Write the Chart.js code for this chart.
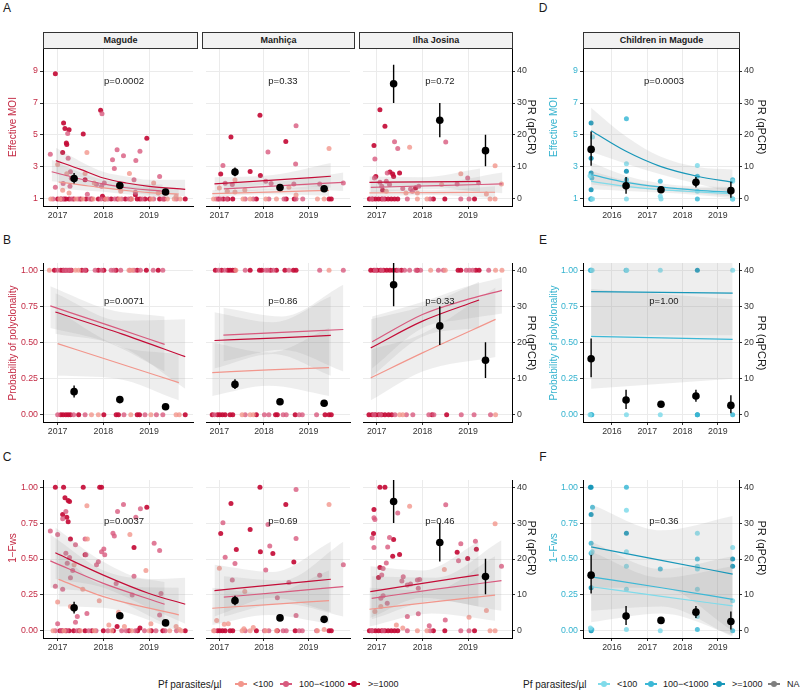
<!DOCTYPE html>
<html lang="en">
<head>
<meta charset="UTF-8">
<title>MOI / polyclonality / 1-Fws by site</title>
<style>
  body { margin: 0; background: #fff; font-family: "Liberation Sans", Arial, Helvetica, sans-serif; }
  #fig { position: relative; width: 800px; height: 697px; overflow: hidden; }
  .pane { position: absolute; }
  .strip { position: absolute; background: #f2f2f2; border: 1px solid #333; box-sizing: border-box;
           font-weight: bold; font-size: 9px; color: #1a1a1a; text-align: center; line-height: 14px; }
  .txt { position: absolute; white-space: nowrap; }
  .key { position: absolute; width: 12px; height: 2px; }
  .key i { position: absolute; left: 3px; top: -2px; width: 6px; height: 6px; border-radius: 50%; }
</style>
</head>
<body>
<div id="fig"></div>
<script src="https://cdn.jsdelivr.net/npm/chart.js"></script>
<script>
// ---------- data ----------
const sites = ['Magude', 'Manhiça', 'Ilha Josina', 'Children in Magude'];
const densityCats = ['<100', '100\u2212<1000', '>=1000'];
const pValues = [
  ['p=0.0002', 'p=0.33', 'p=0.72', 'p=0.0003'],
  ['p=0.0071', 'p=0.86', 'p=0.33', 'p=1.00'],
  ['p=0.0037', 'p=0.69', 'p=0.46', 'p=0.36']
];
const siteYearTicks = [2017, 2018, 2019];
const childYearTicks = [2016, 2017, 2018, 2019];
const moiTicks = [1, 3, 5, 7, 9];
const probTicks = [0, 0.25, 0.5, 0.75, 1];
const prTicks = [0, 10, 20, 30, 40];

// PR (qPCR) survey means with 95% CI
const magPrX = [2017.36, 2018.36, 2019.36];
const magPr = [6.4, 4.2, 2.2], magPrLo = [4.8, 3.3, 1.7], magPrHi = [8.1, 5.1, 2.8];
const manPrX = [2017.35, 2018.36, 2019.35];
const manPr = [8.4, 3.6, 3.2], manPrLo = [7.1, 2.9, 2.5], manPrHi = [9.8, 4.3, 3.9];
const ilhPrX = [2017.37, 2018.38, 2019.38];
const ilhPr = [36.0, 24.6, 15.1], ilhPrLo = [30.0, 19.3, 10.2], ilhPrHi = [42.0, 30.0, 20.1];
const kidPrX = [2015.41, 2016.4, 2017.39, 2018.38, 2019.37];
const kidPr = [15.5, 4.1, 2.9, 5.2, 2.6], kidPrLo = [10.4, 1.6, 2.2, 3.6, 0.4], kidPrHi = [21.1, 6.9, 3.6, 6.9, 5.4];

// ---- Effective MOI samples [year, MOI] ----
const moiMagHi = [[2016.95,8.83],[2017.13,5.75],[2017.16,5.4],[2017.25,5.33],[2017.19,4.5],[2017.2,4.4],[2017.56,5.06],[2017.94,6.54],[2017.11,3.9],[2018.95,4.8],[2017.6,2.2],[2017.98,1.17],[2018.7,1.27],
  [2017.0,1],[2017.07,1],[2017.14,1],[2017.18,1],[2017.25,1],[2017.35,1],[2017.5,1],[2017.62,1],[2017.74,1],[2017.89,1],[2018.03,1],[2018.17,1],[2018.31,1],[2018.48,1],[2018.6,1],[2018.74,1],[2018.8,1],[2018.91,1],[2019.01,1],[2019.23,1],[2019.33,1],[2019.79,1]];
const moiMagMid = [[2017.22,5.1],[2017.97,6.33],[2016.84,3.8],[2018.8,3.98],[2018.44,3.7],[2018.3,4.08],[2018.2,3.45],[2018.71,3.4],[2018.24,2.9],[2018.67,2.2],[2017.23,3.55],[2017.28,2.7],[2017.12,1.96],[2017.3,2.3],[2017.27,1.8],[2017.65,1.3],[2017.85,1.9],[2017.96,1.8],[2018.02,2.0],[2018.7,1.42],[2016.95,1.73],[2019.23,2.4],
  [2016.9,1],[2017.1,1],[2017.3,1],[2017.45,1],[2017.7,1],[2017.95,1],[2018.1,1],[2018.25,1],[2018.4,1],[2018.55,1],[2018.85,1],[2019.1,1],[2019.3,1],[2019.6,1]];
const moiMagLo = [[2017.64,3.9],[2017.0,3.15],[2017.2,2.58],[2017.6,2.6],[2017.11,1.54],[2017.25,1.38],[2017.8,2.0],[2018.38,1.48],[2018.57,2.6],[2019.1,2.0],[2019.2,1.38],[2019.59,1.17],
  [2016.85,1],[2017.05,1],[2017.4,1],[2017.55,1],[2017.78,1],[2018.05,1],[2018.35,1],[2018.62,1],[2019.05,1],[2019.4,1],[2019.55,1],[2019.68,1]];
const moiManHi = [[2017.91,6.23],[2017.26,4.88],[2018.49,4.6],[2017.03,2.56],[2017.69,2.71],[2017.92,2.46],
  [2016.98,1],[2017.09,1],[2017.19,1],[2017.3,1],[2017.83,1],[2018.5,1],[2018.68,1],[2019.46,1],[2019.51,1]];
const moiManMid = [[2018.72,5.58],[2018.09,3.94],[2017.08,3.1],[2018.71,3.19],[2017.13,1.98],[2017.29,1.9],[2018.04,2.1],[2018.16,1.96],[2018.67,1.94],[2019.25,1.94],[2019.78,2.0],
  [2016.93,1],[2017.03,1],[2017.16,1],[2017.58,1],[2017.76,1],[2018.11,1],[2018.45,1],[2018.72,1],[2018.87,1]];
const moiManLo = [[2019.46,4.15],[2017.35,2.19],[2017.0,1.69],[2017.57,1.56],[2017.35,1.44],[2017.18,1.48],[2018.56,1.73],[2018.72,1.25],
  [2016.87,1],[2017.53,1],[2017.69,1],[2018.04,1],[2018.28,1],[2019.2,1],[2019.35,1]];
const moiIlhHi = [[2017.07,6.58],[2017.18,5.54],[2016.94,4.35],[2017.29,2.69],[2017.35,2.56],[2017.37,2.4],[2017.5,2.63],[2016.98,2.4],[2017.13,1.54],[2017.85,1.69],
  [2016.84,1],[2016.91,1],[2016.97,1],[2017.04,1],[2017.11,1],[2017.18,1],[2017.25,1],[2017.32,1],[2017.39,1],[2017.46,1],[2018.24,1],[2018.49,1],[2019.14,1]];
const moiIlhMid = [[2016.96,3.5],[2017.39,4.58],[2017.46,4.15],[2018.51,4.56],[2018.99,2.31],[2019.23,2.02],[2017.23,2.63],[2016.95,2.31],[2017.07,2.04],[2017.11,1.79],[2017.28,1.9],[2017.21,2.1],[2017.57,1.65],[2017.74,1.63],[2017.78,1.48],[2017.92,1.79],[2018.76,1.94],
  [2016.89,1],[2017.14,1],[2017.67,1],[2018.17,1],[2018.84,1],[2019.02,1]];
const moiIlhLo = [[2017.72,4.23],[2019.59,3.08],[2018.84,2.58],[2017.21,1.48],[2017.64,1.38],[2017.89,1.38],[2018.42,1.9],[2019.4,1.31],[2019.73,1.94],
  [2017.89,1],[2018.1,1],[2019.48,1],[2019.59,1]];
const moiKidHi = [[2015.41,5.75],[2015.41,3.54],[2015.41,2.63],[2015.41,1.58],[2015.41,1],[2016.41,2.73]];
const moiKidMid = [[2015.41,4.13],[2015.43,2.31],[2015.4,1],[2016.41,6.02],[2016.41,2.2],[2017.37,2.1],[2018.42,2.42],[2018.42,1],[2019.42,2.2],[2019.42,1]];
const moiKidLo = [[2015.45,4.88],[2015.38,2.45],[2015.45,1],[2016.41,3.2],[2016.41,1],[2017.37,1.17],[2017.39,1],[2018.42,3.1],[2018.42,1.48],[2019.42,2.1],[2019.42,1]];

// ---- Polyclonal (1) / monoclonal (0) sample years ----
const polyMagHi1 = [2016.93,2017.07,2017.12,2017.18,2017.25,2017.3,2017.53,2017.62,2017.89,2018.01,2018.28,2018.74,2018.94,2019.2];
const polyMagMid1 = [2017.0,2017.14,2017.21,2017.28,2017.59,2017.82,2017.96,2018.17,2018.23,2018.38,2018.58,2018.67,2018.81,2019.09,2019.3];
const polyMagLo1 = [2016.82,2017.39,2017.46,2018.56,2018.63];
const polyMagHi0 = [2017.07,2017.12,2017.18,2017.23,2017.28,2017.46,2018.01,2018.28,2018.33,2018.74,2018.79,2019.79];
const polyMagMid0 = [2017.0,2017.35,2017.6,2018.45,2018.91,2019.16,2019.3];
const polyMagLo0 = [2017.74,2017.89,2018.6,2019.04,2019.59,2019.66];
const polyManHi1 = [2016.91,2017.05,2017.19,2017.24,2017.3,2017.35,2017.69,2017.9,2017.95,2018.15,2018.28,2018.47,2018.66,2018.72];
const polyManMid1 = [2016.98,2017.12,2017.58,2018.04,2018.09,2018.21,2018.56,2019.25,2019.78];
const polyManLo1 = [2017.37,2019.46];
const polyManHi0 = [2016.84,2016.96,2017.01,2017.07,2017.13,2017.24,2017.3,2017.83,2018.26,2018.3,2018.7,2019.37,2019.46,2019.51];
const polyManMid0 = [2016.89,2017.58,2018.01,2018.11,2018.43,2018.5,2018.79,2018.86,2019.18];
const polyManLo0 = [2017.51,2017.69,2017.76];
const polyIlhHi1 = [2016.87,2016.94,2017.01,2017.08,2017.15,2017.22,2017.29,2017.36,2017.43,2017.54,2017.89,2018.78,2018.84,2019.17,2019.24];
const polyIlhMid1 = [2016.97,2017.11,2017.47,2017.61,2017.72,2017.86,2017.96,2018.35,2018.46,2018.96,2019.03,2019.1,2019.45];
const polyIlhLo1 = [2018.18,2018.5,2019.6,2019.74];
const polyIlhHi0 = [2016.83,2016.9,2016.97,2017.04,2017.11,2017.18,2017.26,2017.33,2018.21,2018.53];
const polyIlhMid0 = [2016.94,2017.08,2017.4,2017.65,2017.79,2018.14,2018.25,2018.85,2019.13,2019.49];
const polyIlhLo0 = [2017.5,2017.57,2019.6];
const polyKidHi1 = [2015.41,2018.42], polyKidHi0 = [2015.41,2018.42];
const polyKidMid1 = [2015.39,2016.4], polyKidMid0 = [2015.43,2018.42,2019.42];
const polyKidLo1 = [2015.44,2016.42,2017.37,2019.42], polyKidLo0 = [2015.38,2016.41,2017.37];

// ---- 1-Fws samples [year, value] ----
const fwsMagHi = [[2016.95,1],[2017.13,1],[2017.56,1],[2017.92,1],[2017.96,1],[2017.16,0.926],[2017.23,0.907],[2017.26,0.9],[2017.11,0.81],[2017.2,0.79],[2017.23,0.76],[2017.28,0.64],[2018.95,0.86],[2018.67,0.58],[2017.6,0.53],
  [2017.05,0],[2017.1,0],[2017.18,0],[2017.25,0],[2017.35,0],[2017.47,0],[2017.6,0],[2017.75,0],[2018.0,0],[2018.22,0],[2018.3,0.03],[2018.56,0],[2018.75,0],[2018.8,0.02],[2019.05,0],[2019.3,0],[2019.79,0]];
const fwsMagMid = [[2016.84,0.695],[2017.0,0.67],[2017.11,0.78],[2017.18,0.83],[2017.26,0.51],[2017.18,0.54],[2017.21,0.47],[2017.28,0.37],[2017.11,0.29],[2017.39,0.6],[2017.33,0.42],[2017.6,0.64],[2017.62,0.53],[2017.85,0.46],[2017.89,0.48],[2017.96,0.55],[2018.01,0.57],[2018.03,0.53],[2018.21,0.68],[2018.24,0.66],[2018.31,0.83],[2018.44,0.88],[2018.81,0.85],[2018.71,0.79],[2018.67,0.38],[2018.63,0.25],[2019.11,0.61],[2019.23,0.56],[2019.26,0.26],[2019.23,0.11],[2018.28,0.33],[2017.39,0.06],[2017.43,0.1],[2016.95,0.31],[2017.0,0.05],[2017.64,0.12],
  [2016.95,0],[2017.08,0],[2017.2,0],[2017.42,0],[2017.68,0],[2017.84,0],[2018.1,0],[2018.4,0],[2018.5,0],[2018.7,0],[2018.9,0],[2019.15,0],[2019.35,0],[2019.6,0]];
const fwsMagLo = [[2017.64,0.87],[2017.65,0.64],[2018.58,0.67],[2018.93,0.42],[2017.0,0.2],[2017.28,0.17],[2017.91,0.21],[2018.12,0.04],[2018.33,0.13],[2019.04,0.05],[2019.59,0.03],[2019.66,0.01],[2017.55,0.29],[2017.36,0.46],[2018.46,0.03],
  [2016.9,0],[2017.14,0],[2017.5,0],[2017.8,0],[2018.18,0],[2018.62,0],[2019.0,0],[2019.45,0],[2019.7,0]];
const fwsManHi = [[2017.91,1.0],[2017.26,0.887],[2018.49,0.88],[2017.03,0.678],[2017.69,0.706],[2017.38,0.567],[2017.92,0.551],[2018.2,0.539],[2018.67,0.479],
  [2016.96,0],[2017.01,0],[2017.07,0],[2017.13,0],[2017.24,0],[2017.3,0],[2017.83,0],[2018.3,0],[2018.7,0],[2019.46,0],[2019.51,0]];
const fwsManMid = [[2018.72,0.984],[2017.08,0.752],[2018.09,0.741],[2018.13,0.59],[2017.13,0.512],[2017.35,0.468],[2018.04,0.424],[2018.72,0.643],[2017.29,0.354],[2018.3,0.231],[2018.56,0.336],[2019.78,0.46],[2019.25,0.387],[2018.72,0.106],
  [2016.89,0],[2017.58,0],[2018.01,0],[2018.11,0],[2018.43,0],[2018.5,0],[2018.79,0],[2018.86,0],[2019.18,0]];
const fwsManLo = [[2019.46,0.88],[2017.0,0.435],[2017.57,0.273],[2016.94,0.072],[2017.11,0.046],[2017.2,0.05],[2017.76,0.023],[2017.55,0.015],[2019.35,0.01],
  [2016.87,0],[2017.51,0],[2017.69,0],[2018.04,0],[2018.28,0],[2019.2,0]];
const fwsIlhHi = [[2017.07,1],[2017.18,1],[2016.94,0.845],[2016.93,0.677],[2017.37,0.635],[2017.35,0.52],[2017.5,0.531],[2017.07,0.441],[2017.04,0.372],[2019.18,0.568],[2018.76,0.547],[2018.99,0.503],
  [2016.84,0],[2016.9,0],[2016.97,0],[2017.04,0],[2017.11,0],[2017.18,0],[2017.25,0],[2017.32,0],[2017.39,0],[2017.46,0],[2018.24,0],[2018.49,0],[2019.14,0]];
const fwsIlhMid = [[2016.94,0.787],[2016.96,0.775],[2016.9,0.647],[2016.94,0.58],[2017.24,0.584],[2017.28,0.649],[2017.21,0.473],[2017.14,0.434],[2017.14,0.245],[2017.09,0.226],[2017.23,0.192],[2017.11,0.388],[2017.46,0.82],[2017.58,0.376],[2017.55,0.346],[2017.67,0.319],[2017.74,0.326],[2017.89,0.353],[2017.94,0.358],[2017.91,0.296],[2017.67,0.1],[2017.91,0.118],[2018.51,0.878],[2019.16,0.624],[2018.84,0.607],[2018.79,0.487],[2019.73,0.45],[2018.5,0.076],[2018.15,0.035],
  [2016.89,0],[2017.14,0],[2017.67,0],[2018.17,0],[2018.84,0],[2019.02,0]];
const fwsIlhLo = [[2017.72,0.868],[2016.96,0.134],[2017.09,0.169],[2019.59,0.746],[2019.4,0.141],[2018.48,0.427],[2019.02,0.095],[2017.43,0.04],[2017.57,0.02],
  [2017.89,0],[2018.1,0],[2019.48,0],[2019.59,0]];
const fwsKidHi = [[2015.41,1],[2015.39,1],[2015.41,0.81],[2015.41,0.3],[2015.41,0],[2016.41,0.68],[2019.42,0.5],[2019.42,0.45]];
const fwsKidMid = [[2015.45,0.86],[2015.41,0.61],[2015.41,0.54],[2015.43,0.01],[2016.41,1.0],[2017.37,0.43],[2018.42,0.5],[2018.42,0.01],[2019.42,0.0]];
const fwsKidLo = [[2015.44,0.55],[2015.39,0.02],[2016.41,0.84],[2016.41,0.55],[2016.41,0.45],[2016.41,0.29],[2016.41,0.01],[2017.37,0.0],[2018.42,0.68],[2018.42,0.45],[2018.42,0.43],[2018.42,0.29],[2018.42,0.1],[2019.42,0.58],[2019.42,0.21]];

// ---- model fits [year, fit, lower, upper] ----
const fitMoiMagHi = [[2016.96,3.4,2.55,4.2],[2017.5,2.85,2.35,3.35],[2018,2.31,2.0,2.7],[2018.5,2.0,1.7,2.4],[2019,1.79,1.45,2.2],[2019.79,1.6,1.15,2.2]];
const fitMoiMagMid = [[2016.87,2.7,2.1,3.45],[2017.5,2.25,1.9,2.65],[2018,1.94,1.7,2.2],[2018.5,1.7,1.45,2.0],[2019.3,1.48,1.15,1.9]];
const fitMoiMagLo = [[2017.02,2.06,1.6,2.6],[2017.5,1.88,1.55,2.25],[2018,1.69,1.45,1.95],[2018.5,1.53,1.3,1.8],[2019,1.4,1.15,1.7],[2019.65,1.31,1.0,1.65]];
const fitMoiManHi = [[2016.89,1.94,1.5,2.35],[2018.2,2.18,1.9,2.5],[2019.5,2.42,1.7,3.25]];
const fitMoiManMid = [[2017.1,1.63,1.3,2.0],[2018.4,1.83,1.6,2.1],[2019.78,2.04,1.5,2.65]];
const fitMoiManLo = [[2016.84,1.33,1.15,1.55],[2018.1,1.43,1.3,1.6],[2019.46,1.54,1.2,1.9]];
const fitMoiIlhHi = [[2016.84,2.04,1.6,2.4],[2018,2.07,1.8,2.35],[2019.26,2.1,1.45,2.9]];
const fitMoiIlhMid = [[2016.87,1.73,1.4,2.1],[2018.3,1.83,1.6,2.05],[2019.75,1.94,1.35,2.65]];
const fitMoiIlhLo = [[2016.84,1.38,1.15,1.6],[2018.2,1.4,1.25,1.55],[2019.59,1.42,1.05,1.8]];
const fitMoiKidHi = [[2015.41,5.27,3.95,6.7],[2016.4,3.98,3.2,4.9],[2017.37,3.04,2.55,3.65],[2018.42,2.42,1.95,3.0],[2019.42,2.04,1.4,2.85]];
const fitMoiKidMid = [[2015.41,2.52,1.9,3.3],[2016.4,2.04,1.7,2.45],[2017.37,1.75,1.55,1.98],[2018.42,1.54,1.35,1.78],[2019.42,1.42,1.15,1.75]];
const fitMoiKidLo = [[2015.41,2.1,1.6,2.75],[2016.4,1.79,1.5,2.15],[2017.37,1.58,1.4,1.8],[2018.42,1.44,1.25,1.68],[2019.42,1.33,1.05,1.7]];

const fitPolyMagHi = [[2016.95,0.711,0.56,0.84],[2018.4,0.56,0.47,0.65],[2019.79,0.402,0.18,0.66]];
const fitPolyMagMid = [[2016.84,0.753,0.6,0.89],[2018.1,0.62,0.5,0.73],[2019.34,0.487,0.3,0.68]];
const fitPolyMagLo = [[2017.0,0.492,0.27,0.72],[2018.3,0.36,0.25,0.48],[2019.65,0.222,0.1,0.42]];
const fitPolyManHi = [[2016.89,0.514,0.32,0.71],[2018.2,0.53,0.42,0.64],[2019.5,0.549,0.27,0.82]];
const fitPolyManMid = [[2017.09,0.551,0.37,0.74],[2018.4,0.57,0.45,0.68],[2019.78,0.59,0.3,0.9]];
const fitPolyManLo = [[2016.84,0.292,0.13,0.5],[2018.1,0.31,0.2,0.43],[2019.46,0.326,0.13,0.6]];
const fitPolyIlhHi = [[2016.87,0.463,0.26,0.66],[2018,0.648,0.54,0.75],[2019.24,0.794,0.6,0.92]];
const fitPolyIlhMid = [[2016.9,0.505,0.32,0.68],[2018,0.694,0.6,0.78],[2018.9,0.79,0.66,0.88],[2019.74,0.861,0.7,0.95]];
const fitPolyIlhLo = [[2016.87,0.255,0.1,0.45],[2018,0.428,0.3,0.56],[2019.6,0.66,0.4,0.88]];
const fitPolyKidHi = [[2015.41,0.852,0.55,1.08],[2019.42,0.841,0.55,1.08]];
const fitPolyKidMid = [[2015.41,0.543,0.18,0.87],[2019.42,0.522,0.25,0.8]];

const fitFwsMagHi = [[2016.95,0.543,0.36,0.72],[2018,0.388,0.3,0.48],[2019,0.26,0.16,0.36],[2019.79,0.185,0.05,0.37]];
const fitFwsMagMid = [[2016.84,0.487,0.3,0.67],[2018,0.33,0.25,0.42],[2019.34,0.185,0.05,0.34]];
const fitFwsMagLo = [[2017.02,0.358,0.17,0.55],[2018,0.238,0.16,0.32],[2019.65,0.111,0.0,0.3]];
const fitFwsManHi = [[2016.89,0.28,0.1,0.46],[2018.2,0.32,0.23,0.41],[2019.5,0.359,0.13,0.62]];
const fitFwsManMid = [[2017.1,0.234,0.1,0.38],[2018.4,0.27,0.19,0.35],[2019.78,0.308,0.1,0.62]];
const fitFwsManLo = [[2016.84,0.157,0.04,0.3],[2018.1,0.183,0.11,0.26],[2019.46,0.21,0.05,0.42]];
const fitFwsIlhHi = [[2016.86,0.273,0.09,0.45],[2018,0.33,0.23,0.42],[2019.23,0.39,0.17,0.62]];
const fitFwsIlhMid = [[2016.89,0.226,0.08,0.38],[2018.3,0.29,0.21,0.37],[2019.73,0.349,0.14,0.63]];
const fitFwsIlhLo = [[2016.84,0.15,0.03,0.3],[2018.2,0.2,0.12,0.28],[2019.59,0.249,0.07,0.52]];
const fitFwsKidHi = [[2015.41,0.584,0.3,0.88],[2017.4,0.49,0.3,0.7],[2019.42,0.395,0.0,0.8]];
const fitFwsKidMid = [[2015.41,0.376,0.14,0.62],[2017.4,0.3,0.17,0.43],[2019.42,0.219,-0.04,0.52]];
const fitFwsKidLo = [[2015.41,0.307,0.06,0.55],[2017.4,0.24,0.12,0.37],[2019.42,0.173,-0.03,0.45]];

// ---------- look ----------
const FONT = '"Liberation Sans", Arial, Helvetica, sans-serif';
const RED = { lo: '#f2968c', mid: '#d85a7e', hi: '#c40c37', dotLo: 'rgba(242,150,140,0.8)', dotMid: 'rgba(216,90,126,0.8)', dotHi: 'rgba(196,12,55,0.92)', axis: '#c42b45' };
const TEAL = { lo: '#80dbea', mid: '#3cb8d6', hi: '#1897b9', dotLo: 'rgba(128,219,234,0.85)', dotMid: 'rgba(60,184,214,0.85)', dotHi: 'rgba(24,151,185,0.92)', axis: '#35b3cf' };
const BAND = 'rgba(150,150,150,0.16)';
const GRID = '#ebebeb';
const TICK_SIZE = 8.8;
const COLS = [{ l: 43, r: 197, xmin: 2016.68, xmax: 2019.96 }, { l: 202, r: 354, xmin: 2016.70, xmax: 2019.93 },
              { l: 359, r: 512, xmin: 2016.70, xmax: 2019.96 }, { l: 583, r: 739, xmin: 2015.18, xmax: 2019.60 }];
const ROWS = [{ t: 48, b: 206, ymin: 0.56, ymax: 10.44, pmin: -2.2, pmax: 47.2 },
              { t: 263, b: 422, ymin: -0.05, ymax: 1.05, pmin: -2, pmax: 42 },
              { t: 480, b: 638, ymin: -0.05, ymax: 1.05, pmin: -2, pmax: 42 }];

const fig = document.getElementById('fig');

function xy(arr) { return arr.map(p => ({ x: p[0], y: p[1] })); }
function at(xs, v) { return xs.map(x => ({ x, y: v })); }
function errSegs(xs, lo, hi) {
  const out = [];
  xs.forEach((x, i) => { out.push({ x, y: lo[i] }, { x, y: hi[i] }, { x, y: null }); });
  return out;
}

function panel(col, row, pal, scatter, fits, pr) {
  const c = COLS[col], r = ROWS[row];
  const LW = (col === 0 || col === 3) ? 40 : 0;
  const RW = (col === 2 || col === 3) ? 30 : 0;
  const BH = 18, TP = 8;
  const w = LW + (c.r - c.l) + RW, h = TP + (r.b - r.t) + BH;
  const cv = document.createElement('canvas');
  cv.className = 'pane';
  cv.width = w; cv.height = h;
  cv.style.left = (c.l - LW) + 'px'; cv.style.top = (r.t - TP) + 'px';
  cv.style.width = w + 'px'; cv.style.height = h + 'px';
  fig.appendChild(cv);

  const ds = [];
  // confidence ribbons
  fits.forEach(f => {
    ds.push({ type: 'line', data: f.rows.map(q => ({ x: q[0], y: q[3] })), borderWidth: 0, pointRadius: 0, fill: false, order: 3, cubicInterpolationMode: 'monotone' });
    ds.push({ type: 'line', data: f.rows.map(q => ({ x: q[0], y: q[2] })), borderWidth: 0, pointRadius: 0, fill: '-1', backgroundColor: BAND, order: 3, cubicInterpolationMode: 'monotone' });
  });
  // fitted lines
  fits.forEach(f => {
    ds.push({ type: 'line', data: f.rows.map(q => ({ x: q[0], y: q[1] })), borderColor: f.color, borderWidth: 1.2, pointRadius: 0, fill: false, order: 2, cubicInterpolationMode: 'monotone' });
  });
  // individual samples
  scatter.forEach(s => {
    ds.push({ type: 'scatter', data: s.data, backgroundColor: s.color, borderWidth: 0, pointRadius: 2.5, order: 4 });
  });
  // PR survey means + CI
  ds.push({ type: 'line', yAxisID: 'y2', data: errSegs(pr.x, pr.lo, pr.hi), borderColor: '#000', borderWidth: 1.4, pointRadius: 0, spanGaps: false, fill: false, order: 1 });
  ds.push({ type: 'scatter', yAxisID: 'y2', data: pr.x.map((x, i) => ({ x, y: pr.v[i] })), backgroundColor: '#000', borderWidth: 0, pointRadius: 3.8, order: 0 });

  const isMoi = row === 0;
  const yTicks = isMoi ? moiTicks : probTicks;
  const xTicks = col === 3 ? childYearTicks : siteYearTicks;

  new Chart(cv, {
    type: 'scatter',
    data: { datasets: ds },
    options: {
      responsive: false, animation: false, events: [],
      layout: { padding: { top: TP, left: 0, right: 0, bottom: 0 } },
      plugins: { legend: { display: false }, tooltip: { enabled: false } },
      scales: {
        x: {
          type: 'linear', min: c.xmin, max: c.xmax,
          afterBuildTicks: s => { s.ticks = xTicks.map(v => ({ value: v })); },
          afterFit: s => { s.height = BH; },
          grid: { color: GRID, tickColor: '#333', tickLength: 3 },
          border: { display: true, color: '#000', width: 1 },
          ticks: { color: '#333', font: { family: FONT, size: TICK_SIZE }, padding: 1, maxRotation: 0, autoSkip: false, callback: v => String(v) }
        },
        y: {
          type: 'linear', position: 'left', min: r.ymin, max: r.ymax,
          afterBuildTicks: s => { s.ticks = yTicks.map(v => ({ value: v })); },
          afterFit: s => { s.width = LW; },
          grid: { color: GRID, tickColor: '#333', tickLength: 3, drawTicks: LW > 0 },
          border: { display: LW > 0, color: '#000', width: 1 },
          ticks: { display: LW > 0, color: pal.axis, font: { family: FONT, size: TICK_SIZE }, padding: 2,
                   callback: v => isMoi ? String(v) : v.toFixed(2) }
        },
        y2: {
          type: 'linear', position: 'right', display: RW > 0, min: r.pmin, max: r.pmax,
          afterBuildTicks: s => { s.ticks = prTicks.map(v => ({ value: v })); },
          afterFit: s => { s.width = RW; },
          grid: { drawOnChartArea: false, tickColor: '#333', tickLength: 3 },
          border: { display: true, color: '#000', width: 1 },
          ticks: { color: '#333', font: { family: FONT, size: TICK_SIZE }, padding: 2, callback: v => String(v) }
        }
      }
    }
  });
}

function cats(pal, lo, mid, hi) {
  return [{ data: lo, color: pal.dotLo }, { data: mid, color: pal.dotMid }, { data: hi, color: pal.dotHi }];
}
function lines(pal, lo, mid, hi) {
  const out = [];
  if (lo) out.push({ rows: lo, color: pal.lo });
  if (mid) out.push({ rows: mid, color: pal.mid });
  if (hi) out.push({ rows: hi, color: pal.hi });
  return out;
}
const prMag = { x: magPrX, v: magPr, lo: magPrLo, hi: magPrHi };
const prMan = { x: manPrX, v: manPr, lo: manPrLo, hi: manPrHi };
const prIlh = { x: ilhPrX, v: ilhPr, lo: ilhPrLo, hi: ilhPrHi };
const prKid = { x: kidPrX, v: kidPr, lo: kidPrLo, hi: kidPrHi };

// row A/D: effective MOI
panel(0, 0, RED, cats(RED, xy(moiMagLo), xy(moiMagMid), xy(moiMagHi)), lines(RED, fitMoiMagLo, fitMoiMagMid, fitMoiMagHi), prMag);
panel(1, 0, RED, cats(RED, xy(moiManLo), xy(moiManMid), xy(moiManHi)), lines(RED, fitMoiManLo, fitMoiManMid, fitMoiManHi), prMan);
panel(2, 0, RED, cats(RED, xy(moiIlhLo), xy(moiIlhMid), xy(moiIlhHi)), lines(RED, fitMoiIlhLo, fitMoiIlhMid, fitMoiIlhHi), prIlh);
panel(3, 0, TEAL, cats(TEAL, xy(moiKidLo), xy(moiKidMid), xy(moiKidHi)), lines(TEAL, fitMoiKidLo, fitMoiKidMid, fitMoiKidHi), prKid);
// row B/E: probability of polyclonality
panel(0, 1, RED, cats(RED, at(polyMagLo1, 1).concat(at(polyMagLo0, 0)), at(polyMagMid1, 1).concat(at(polyMagMid0, 0)), at(polyMagHi1, 1).concat(at(polyMagHi0, 0))),
      lines(RED, fitPolyMagLo, fitPolyMagMid, fitPolyMagHi), prMag);
panel(1, 1, RED, cats(RED, at(polyManLo1, 1).concat(at(polyManLo0, 0)), at(polyManMid1, 1).concat(at(polyManMid0, 0)), at(polyManHi1, 1).concat(at(polyManHi0, 0))),
      lines(RED, fitPolyManLo, fitPolyManMid, fitPolyManHi), prMan);
panel(2, 1, RED, cats(RED, at(polyIlhLo1, 1).concat(at(polyIlhLo0, 0)), at(polyIlhMid1, 1).concat(at(polyIlhMid0, 0)), at(polyIlhHi1, 1).concat(at(polyIlhHi0, 0))),
      lines(RED, fitPolyIlhLo, fitPolyIlhMid, fitPolyIlhHi), prIlh);
panel(3, 1, TEAL, cats(TEAL, at(polyKidLo1, 1).concat(at(polyKidLo0, 0)), at(polyKidMid1, 1).concat(at(polyKidMid0, 0)), at(polyKidHi1, 1).concat(at(polyKidHi0, 0))),
      lines(TEAL, null, fitPolyKidMid, fitPolyKidHi), prKid);
// row C/F: 1-Fws
panel(0, 2, RED, cats(RED, xy(fwsMagLo), xy(fwsMagMid), xy(fwsMagHi)), lines(RED, fitFwsMagLo, fitFwsMagMid, fitFwsMagHi), prMag);
panel(1, 2, RED, cats(RED, xy(fwsManLo), xy(fwsManMid), xy(fwsManHi)), lines(RED, fitFwsManLo, fitFwsManMid, fitFwsManHi), prMan);
panel(2, 2, RED, cats(RED, xy(fwsIlhLo), xy(fwsIlhMid), xy(fwsIlhHi)), lines(RED, fitFwsIlhLo, fitFwsIlhMid, fitFwsIlhHi), prIlh);
panel(3, 2, TEAL, cats(TEAL, xy(fwsKidLo), xy(fwsKidMid), xy(fwsKidHi)), lines(TEAL, fitFwsKidLo, fitFwsKidMid, fitFwsKidHi), prKid);

// ---------- text ----------
function text(s, x, y, o) {
  const d = document.createElement('div');
  d.className = 'txt';
  d.textContent = s;
  const anchor = o.anchor === 'left' ? 'translate(0,-50%)' : 'translate(-50%,-50%)';
  d.style.cssText += `left:${x}px;top:${y}px;font-size:${o.size || 9}px;color:${o.color || '#1a1a1a'};` +
    `font-weight:${o.bold ? 'bold' : 'normal'};transform:${anchor} rotate(${o.rot || 0}deg);`;
  fig.appendChild(d);
}

// facet strips
COLS.forEach((c, i) => {
  const d = document.createElement('div');
  d.className = 'strip';
  d.style.left = c.l + 'px'; d.style.top = '32px';
  d.style.width = (c.r - c.l + 1) + 'px'; d.style.height = '17px';
  d.textContent = sites[i];
  fig.appendChild(d);
});

// panel letters
[['A', 7, 8], ['D', 543, 8], ['B', 7, 240], ['E', 543, 240], ['C', 7, 457], ['F', 543, 457]]
  .forEach(([t, x, y]) => text(t, x, y, { size: 12 }));

// p-values
const pX = [124, 283, 440, 664];
const pY = [80, 300, 520];
pValues.forEach((rowP, ri) => rowP.forEach((p, ci) => text(p, pX[ci], pY[ri], { size: 9.5 })));

// axis titles
const yTitles = ['Effective MOI', 'Probability of polyclonality', '1\u2212Fws'];
const titleY = [127, 343, 548];
yTitles.forEach((t, i) => {
  text(t, 12, titleY[i], { size: 10, color: RED.axis, rot: -90 });
  text(t, 553, titleY[i], { size: 10, color: TEAL.axis, rot: -90 });
  text('PR (qPCR)', 532, titleY[i], { size: 11, color: '#1a1a1a', rot: 90 });
  text('PR (qPCR)', 762, titleY[i], { size: 11, color: '#1a1a1a', rot: 90 });
});

// legends
const keyX = [235, 280, 348, 598, 645, 713, 768];
function legend(x0, keys, colors, textX, y, k0) {
  text('Pf parasites/\u00b5l', x0, y, { size: 10, anchor: 'left' });
  keys.forEach((k, i) => {
    const d = document.createElement('div');
    d.className = 'key';
    d.style.left = keyX[k0 + i] + 'px';
    d.style.top = (y - 1) + 'px';
    d.style.background = colors[i];
    const dot = document.createElement('i');
    dot.style.background = colors[i];
    d.appendChild(dot);
    fig.appendChild(d);
    text(k, textX[i], y, { size: 9, anchor: 'left' });
  });
}
legend(158, densityCats, [RED.lo, RED.mid, RED.hi], [253, 299, 368], 684, 0);
legend(523, densityCats.concat(['NA']), [TEAL.lo, TEAL.mid, TEAL.hi, '#7f7f7f'], [617, 663, 732, 787], 684, 3);
</script>
</body>
</html>
